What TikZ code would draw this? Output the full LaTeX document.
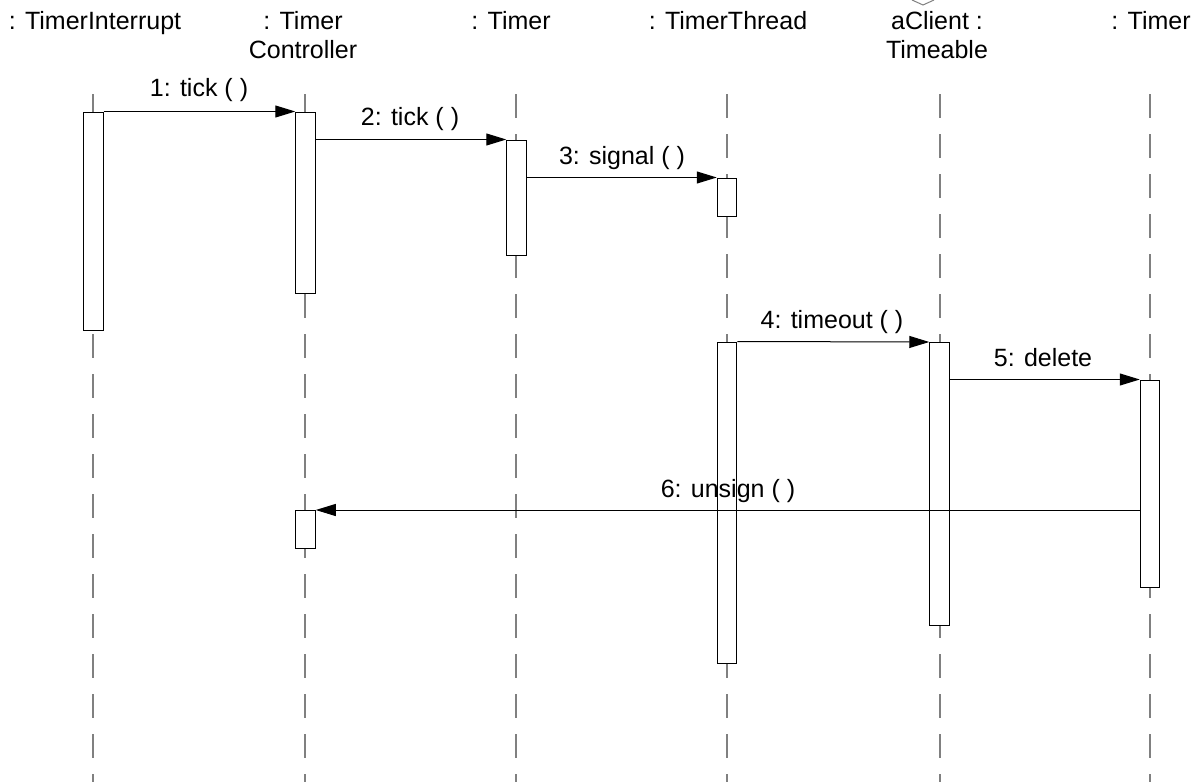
\documentclass[tikz,border=0pt]{standalone}
\usepackage{fontspec}
\setmainfont{Liberation Sans}
\usetikzlibrary{arrows.meta,calc}
\begin{document}
\begin{tikzpicture}[x=1pt,y=-1pt,
  head/.style={font=\fontsize{25}{29}\selectfont, align=center, anchor=north, inner sep=0pt},
  lbl/.style={font=\fontsize{25}{29}\selectfont, anchor=base, inner sep=0pt},
  life/.style={draw=gray, line width=1.3pt, dash pattern=on 24pt off 16pt},
  act/.style={draw=black, fill=white, line width=1pt, minimum width=19.5pt, inner sep=0pt, rectangle},
  msg/.style={draw=black, line width=1pt, -{Triangle[length=20pt,width=12pt]}}
]
\useasboundingbox (0,0) rectangle (1201,782);
\fill[white] (0,0) rectangle (1201,782);

% heads
\node[head] (h1) at (95,11) {: TimerInterrupt};
\node[head] (h2) at (303,11) {: Timer\\Controller};
\node[head] (h3) at (511,11) {: Timer};
\node[head] (h4) at (728,11) {: TimerThread};
\node[head] (h5) at (937,11) {aClient :\\Timeable};
\node[head] (h6) at (1151,11) {: Timer};
\draw[gray, line width=1pt] (912,0) -- (923,5) -- (934,0);

% lifelines
\foreach \i/\x in {1/93,2/305,3/516,4/727,5/940,6/1150}{
  \coordinate (lt\i) at (\x,94);
  \coordinate (lb\i) at (\x,782);
  \draw[life] (lt\i) -- (lb\i);
}

% activation boxes
\node[act, minimum height=218pt] (a1) at (93.5,221) {};
\node[act, minimum height=181pt] (a2) at (305.5,202.5) {};
\node[act, minimum height=115pt] (a3) at (516.5,197.5) {};
\node[act, minimum height=38pt]  (a4) at (727,197) {};
\node[act, minimum height=321pt] (a5) at (727,502.5) {};
\node[act, minimum height=283pt] (a6) at (939.5,484) {};
\node[act, minimum height=207pt] (a7) at (1150,483.5) {};
\node[act, minimum height=38pt]  (a8) at (305.5,529.5) {};

% messages
\draw[msg] (a1.north east) -- (a2.north west);
\node[lbl] (m1) at (199,96) {1: tick ( )};
\draw[msg] (a2.east |- a3.north) -- (a3.north west);
\node[lbl] (m2) at (410,125) {2: tick ( )};
\draw[msg] (a3.east |- a4.north) -- (a4.north west);
\node[lbl] (m3) at (622,164) {3: signal ( )};
\draw[msg] (a5.north east) -- (a6.north west);
\node[lbl] (m4) at (832,328) {4: timeout ( )};
\draw[msg] (a6.east |- a7.north) -- (a7.north west);
\node[lbl] (m5) at (1043,366) {5: delete};
\draw[msg] (a7.west |- a8.north) -- (a8.north east);
\node[lbl] (m6) at (728,497) {6: unsign ( )};
\end{tikzpicture}
\end{document}
